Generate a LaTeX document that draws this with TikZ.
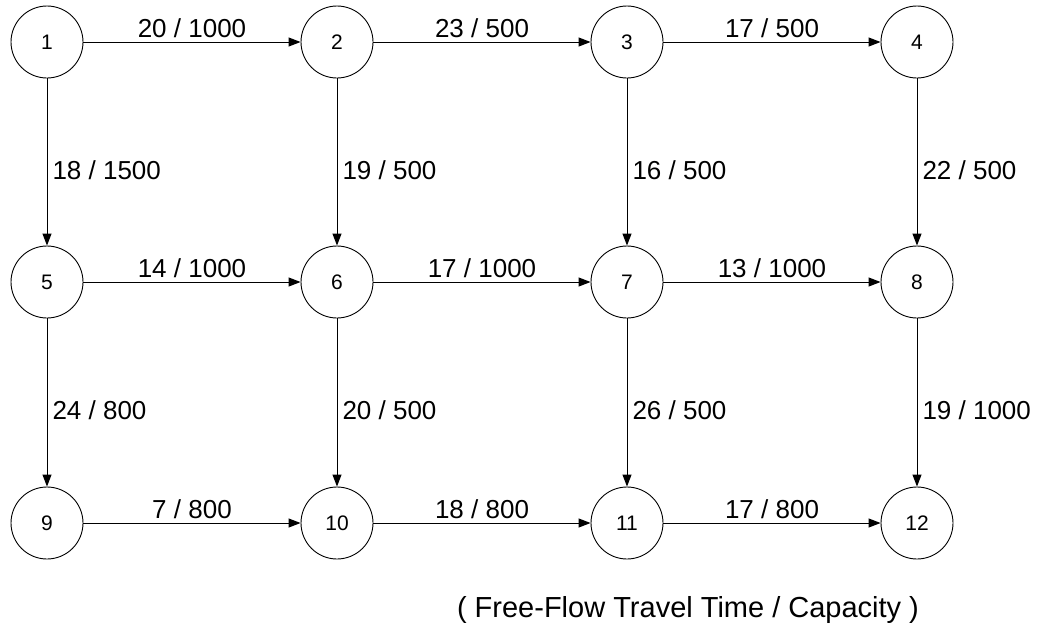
\documentclass[tikz,border=0pt]{standalone}
\usepackage{fontspec}
\setmainfont{Liberation Sans}
\usetikzlibrary{arrows.meta}
\begin{document}
\begin{tikzpicture}[x=1pt,y=-1pt,
  nd/.style={circle,draw,line width=0.9pt,minimum size=72pt,inner sep=0pt,font=\fontsize{21}{21}\selectfont},
  ed/.style={line width=1pt,-{Triangle[length=12pt,width=9pt]}},
  lab/.style={font=\fontsize{26}{26}\selectfont,inner sep=0pt}]
\useasboundingbox (0,0) rectangle (1037,633);
\foreach \n/\x/\y in {1/47/42,2/337/42,3/627/42,4/917/42,5/47/282,6/337/282,7/627/282,8/917/282,9/47/523,10/337/523,11/627/523,12/917/523}
  \node[nd] (n\n) at (\x,\y) {\n};
% horizontal edges
\foreach \a/\b/\t in {1/2/{20 / 1000},2/3/{23 / 500},3/4/{17 / 500},5/6/{14 / 1000},6/7/{17 / 1000},7/8/{13 / 1000},9/10/{7 / 800},10/11/{18 / 800},11/12/{17 / 800}}
  \draw[ed] (n\a) -- node[lab,anchor=base,yshift=5pt]{\t} (n\b);
% vertical edges
\foreach \a/\b/\t in {1/5/{18 / 1500},2/6/{19 / 500},3/7/{16 / 500},4/8/{22 / 500},5/9/{24 / 800},6/10/{20 / 500},7/11/{26 / 500},8/12/{19 / 1000}}
  \draw[ed] (n\a) -- node[lab,anchor=west,xshift=5pt,yshift=-8pt]{\t} (n\b);
\node[lab,anchor=base,font=\fontsize{29}{29}\selectfont] (cap) at (688,617) {( Free-Flow Travel Time / Capacity )};
\end{tikzpicture}
\end{document}
